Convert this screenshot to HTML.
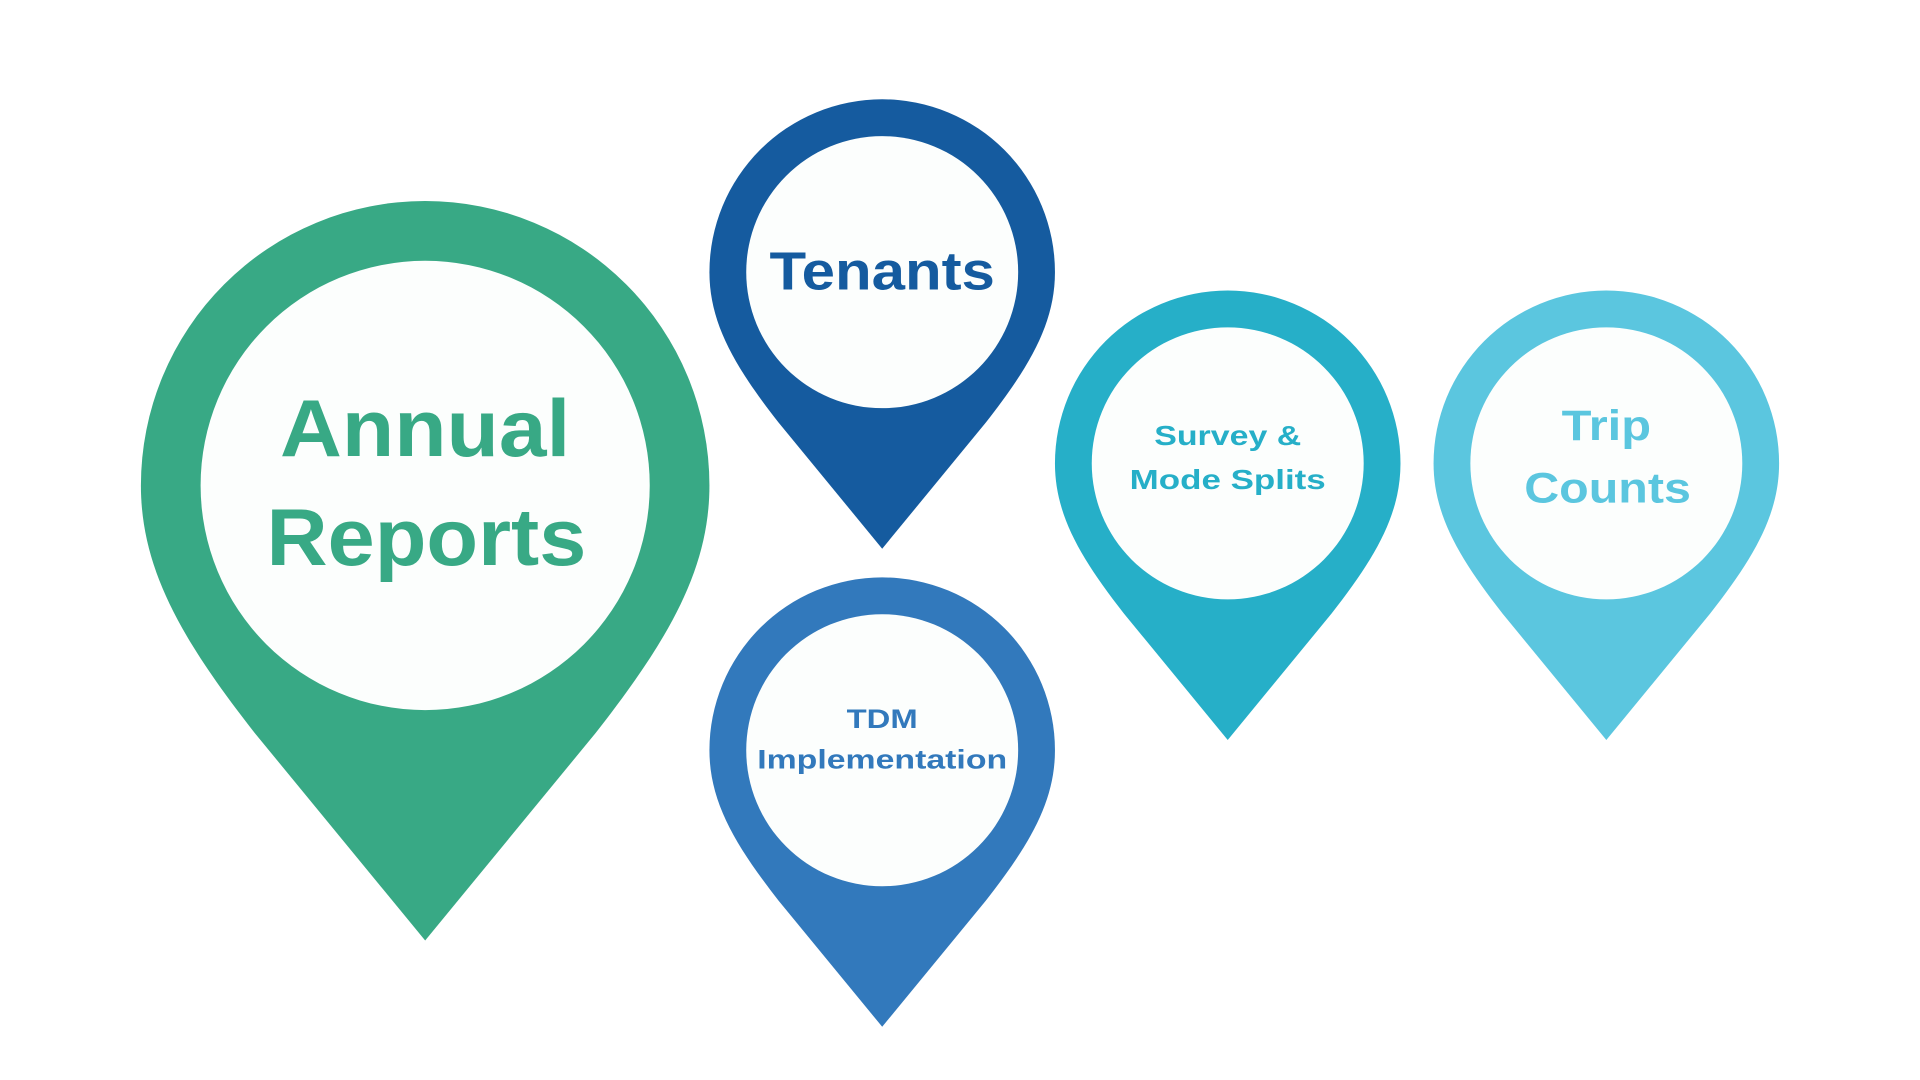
<!DOCTYPE html>
<html><head><meta charset="utf-8"><style>html,body{margin:0;padding:0;background:#fff;width:1920px;height:1080px;overflow:hidden}</style></head>
<body>
<svg width="1920" height="1080" viewBox="0 0 1567 881" preserveAspectRatio="none" xmlns="http://www.w3.org/2000/svg" font-family="Liberation Sans, sans-serif" font-weight="bold" text-anchor="middle">
<defs>
<path id="pin" d="M0,1.6 L-0.6,0.87 C-0.85,0.55 -1,0.3 -1,0 A1,1 0 0 1 1,0 C1,0.3 0.85,0.55 0.6,0.87 Z"/>
</defs>
<g transform="translate(347,396) scale(232)"><use href="#pin" fill="#38a985"/><circle r="0.79" fill="#fcfefd"/></g>
<g transform="translate(720,222) scale(141)"><use href="#pin" fill="#155b9f"/><circle r="0.787" fill="#fcfefd"/></g>
<g transform="translate(720,612) scale(141)"><use href="#pin" fill="#3279bc"/><circle r="0.787" fill="#fcfefd"/></g>
<g transform="translate(1002,378) scale(141)"><use href="#pin" fill="#26afc8"/><circle r="0.787" fill="#fcfefd"/></g>
<g transform="translate(1311,378) scale(141)"><use href="#pin" fill="#5bc6df"/><circle r="0.787" fill="#fcfefd"/></g>
<g fill="#38a985" font-size="66" lengthAdjust="spacingAndGlyphs"><text x="347" y="372" textLength="237" lengthAdjust="spacingAndGlyphs">Annual</text><text x="348" y="461" textLength="261" lengthAdjust="spacingAndGlyphs">Reports</text></g>
<text x="720" y="236" fill="#155b9f" font-size="44" textLength="184" lengthAdjust="spacingAndGlyphs">Tenants</text>
<g fill="#26afc8" font-size="23"><text x="1002" y="363" textLength="120" lengthAdjust="spacingAndGlyphs">Survey &amp;</text><text x="1002" y="399" textLength="160" lengthAdjust="spacingAndGlyphs">Mode Splits</text></g>
<g fill="#5bc6df" font-size="35"><text x="1311" y="359" textLength="73" lengthAdjust="spacingAndGlyphs">Trip</text><text x="1312" y="410" textLength="136" lengthAdjust="spacingAndGlyphs">Counts</text></g>
<g fill="#3279bc" font-size="22"><text x="720" y="594" textLength="58" lengthAdjust="spacingAndGlyphs">TDM</text><text x="720" y="627" textLength="204" lengthAdjust="spacingAndGlyphs">Implementation</text></g>
</svg>
</body></html>
